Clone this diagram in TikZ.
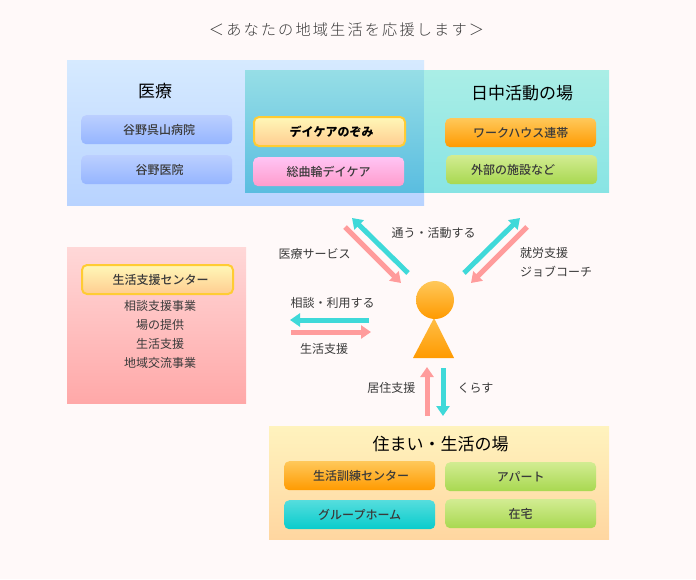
\documentclass[tikz,border=0pt]{standalone}
\usepackage{fontspec}
\setmainfont{Noto Sans CJK JP}
\newfontfamily\lightjp{Noto Sans CJK JP Light}[LetterSpace=14]
\newfontfamily\mediumjp{Noto Sans CJK JP Medium}
\usetikzlibrary{arrows.meta}
\definecolor{paper}{HTML}{FFF9F9}
\definecolor{inkgray}{HTML}{3A3A3A}
\definecolor{tealline}{HTML}{3FD9D9}
\definecolor{pinkline}{HTML}{FF9C9C}
\newcommand{\headsize}{\fontsize{17}{20}\selectfont}
\newcommand{\labelsize}{\fontsize{12}{15}\selectfont}

\begin{document}
\begin{tikzpicture}[
    x=1pt, y=-1pt,
    panel/.style={%
        anchor=north west, inner sep=0pt, outer sep=0pt},
    button/.style={%
        rounded corners=5pt, anchor=north west, inner sep=0pt,
        minimum width=151pt, minimum height=29pt,
        text=inkgray, font=\mediumjp\labelsize},
    bluebutton/.style={button, top color={rgb,255:red,187;green,207;blue,255}, bottom color={rgb,255:red,149;green,181;blue,255}},
    pinkbutton/.style={button, top color={rgb,255:red,255;green,196;blue,244}, bottom color={rgb,255:red,255;green,156;blue,204}},
    orangebutton/.style={button, top color={rgb,255:red,255;green,200;blue,90}, bottom color={rgb,255:red,255;green,154;blue,0}},
    greenbutton/.style={button, top color={rgb,255:red,210;green,236;blue,146}, bottom color={rgb,255:red,168;green,216;blue,80}},
    tealbutton/.style={button, top color={rgb,255:red,85;green,221;blue,221}, bottom color={rgb,255:red,8;green,204;blue,204}},
    yellowbutton/.style={button, draw={rgb,255:red,255;green,204;blue,51}, line width=2pt,
        top color={rgb,255:red,255;green,248;blue,184}, bottom color={rgb,255:red,255;green,204;blue,144}},
    head/.style={font=\headsize, text=black, inner sep=0pt},
    caption/.style={font=\labelsize, text=inkgray, inner sep=0pt},
    going/.style={draw=tealline, line width=5pt, -{Triangle[length=10pt,width=13pt]}},
    coming/.style={draw=pinkline, line width=5pt, -{Triangle[length=10pt,width=13pt]}},
]
    % Background
    \useasboundingbox (0,0) rectangle (696,579);
    \fill[paper] (0,0) rectangle (696,579);

    % Title
    \node[inner sep=0pt, text=inkgray, font=\lightjp\fontsize{15.2}{18}\selectfont] (title) at (346.5,30) {＜あなたの地域生活を応援します＞};

    % Panels
    \node[panel, minimum width=357pt, minimum height=145.5pt,
        top color={rgb,255:red,214;green,234;blue,255}, bottom color={rgb,255:red,184;green,211;blue,255}] (medical) at (67,60) {};
    \node[panel, minimum width=179pt, minimum height=122.5pt,
        top color={rgb,255:red,150;green,222;blue,230}, bottom color={rgb,255:red,90;green,189;blue,224}] (overlap) at (245,70) {};
    \node[panel, minimum width=185pt, minimum height=122.5pt,
        top color={rgb,255:red,170;green,238;blue,230}, bottom color={rgb,255:red,136;green,228;blue,228}] (daytime) at (424,70) {};
    \node[panel, minimum width=179pt, minimum height=156.5pt,
        top color={rgb,255:red,255;green,216;blue,216}, bottom color={rgb,255:red,255;green,168;blue,168}] (support) at (67,247) {};
    \node[panel, minimum width=340pt, minimum height=113.5pt,
        top color={rgb,255:red,255;green,243;blue,190}, bottom color={rgb,255:red,255;green,214;blue,160}] (living) at (269,426) {};

    % Panel headings
    \node[head] (medicalhead) at (155,91) {医療};
    \node[head] (daytimehead) at (522,93) {日中活動の場};
    \node[head] (livinghead) at (440.5,444) {住まい・生活の場};

    % Medical and daycare
    \node[bluebutton] (hospital) at (81,115) {\hspace*{5pt}谷野呉山病院};
    \node[bluebutton] (clinic) at (81,155) {\hspace*{6pt}谷野医院};
    \node[yellowbutton, text=black, font=\labelsize\bfseries] (nozomi) at (253,116) {\hspace*{4pt}デイケアのぞみ};
    \node[pinkbutton] (tokuwa) at (253,157) {総曲輪デイケア};

    % Daytime activity
    \node[orangebutton] (workhouse) at (445,118) {ワークハウス連帯};
    \node[greenbutton] (outside) at (446,155) {外部の施設など\hspace*{17pt}};

    % Life support centre
    \node[yellowbutton] (center) at (81,264) {\hspace*{6pt}生活支援センター};
    \node[caption] (service1) at (160,306) {相談支援事業};
    \node[caption] (service2) at (160,325) {場の提供};
    \node[caption] (service3) at (160,344) {生活支援};
    \node[caption] (service4) at (160,363) {地域交流事業};

    % Housing
    \node[orangebutton] (training) at (284,461) {\hspace*{3pt}生活訓練センター};
    \node[tealbutton] (grouphome) at (284,500) {グループホーム};
    \node[greenbutton] (apartment) at (445,462) {アパート};
    \node[greenbutton] (home) at (445,499) {在宅};

    % Person
    \shade[top color={rgb,255:red,255;green,190;blue,70}, bottom color={rgb,255:red,255;green,154;blue,0}] (413,358) -- (434,318) -- (454,358) -- cycle;
    \node[circle, minimum size=38pt, inner sep=0pt, top color={rgb,255:red,255;green,200;blue,90}, bottom color={rgb,255:red,255;green,154;blue,0}] (person) at (435,300) {};

    % Arrow ends
    \coordinate (a1) at (408,273);
    \coordinate (a2) at (352,218);
    \coordinate (b1) at (345,227);
    \coordinate (b2) at (401,283);
    \coordinate (c1) at (464,273);
    \coordinate (c2) at (520,218);
    \coordinate (d1) at (527,227);
    \coordinate (d2) at (471,283);
    \coordinate (e1) at (369,320);
    \coordinate (e2) at (290,320);
    \coordinate (f1) at (291,332);
    \coordinate (f2) at (371,332);
    \coordinate (g1) at (427,416);
    \coordinate (g2) at (427,367);
    \coordinate (h1) at (443,368);
    \coordinate (h2) at (443,416);

    \draw[going] (a1) -- (a2);
    \draw[coming] (b1) -- (b2);
    \draw[going] (c1) -- (c2);
    \draw[coming] (d1) -- (d2);
    \draw[going] (e1) -- (e2);
    \draw[coming] (f1) -- (f2);
    \draw[coming] (g1) -- (g2);
    \draw[going] (h1) -- (h2);

    % Arrow labels
    \node[caption] (attend) at (433.7,233) {通う・活動する};
    \node[caption] (medservice) at (314.7,254) {医療サービス};
    \node[caption, anchor=west] (employ) at (520,252.7) {就労支援};
    \node[caption, anchor=west] (coach) at (520,271.7) {ジョブコーチ};
    \node[caption] (consult) at (332.7,302.7) {相談・利用する};
    \node[caption] (lifesupport) at (324,349) {生活支援};
    \node[caption] (housing) at (391.3,387.7) {居住支援};
    \node[caption] (dwell) at (475.5,387.7) {くらす};
\end{tikzpicture}
\end{document}
